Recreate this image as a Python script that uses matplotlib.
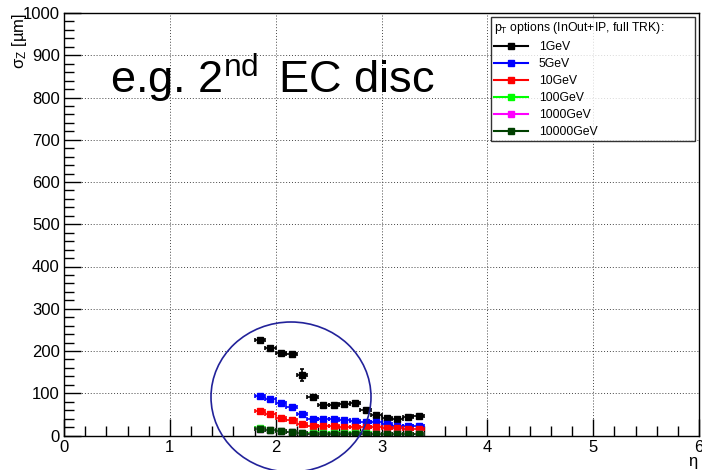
import matplotlib
matplotlib.use("Agg")
import matplotlib.pyplot as plt
from matplotlib.lines import Line2D
from matplotlib.patches import Ellipse
from matplotlib.ticker import MultipleLocator

plt.rcParams['font.family'] = ['Liberation Sans', 'DejaVu Sans']
plt.rcParams['mathtext.fontset'] = 'custom'
plt.rcParams['mathtext.rm'] = 'Liberation Sans'
plt.rcParams['mathtext.it'] = 'Liberation Sans'

# eta bin centres
eta = [1.85, 1.95, 2.05, 2.15, 2.25, 2.35, 2.45, 2.55,
       2.65, 2.75, 2.85, 2.95, 3.05, 3.15, 3.25, 3.35]

# sigma_z [um] per pT option
sz_1 = [225, 208, 196, 194, 143, 90, 72, 72, 74, 78, 60, 48, 42, 40, 43, 47]
err_1 = [4, 4, 4, 4, 15, 4, 3, 3, 3, 4, 3, 3, 3, 3, 3, 3]
sz_5 = [94, 86, 76, 67, 50, 38, 38, 38, 37, 35, 33, 31, 27, 23, 23, 23]
sz_10 = [57, 50, 42, 36, 28, 23, 23, 23, 21, 21, 21, 20, 18, 17, 16, 16]
sz_100 = [17, 14, 11, 9, 7, 5, 5, 5, 5, 5, 5, 4, 4, 4, 4, 4]
sz_1000 = [15, 13, 10, 8, 6, 4, 4, 4, 4, 4, 4, 3, 3, 3, 3, 3]
sz_10000 = [15, 13, 10, 8, 6, 4, 4, 4, 4, 4, 4, 3, 3, 3, 3, 3]

labels = ["1GeV", "5GeV", "10GeV", "100GeV", "1000GeV", "10000GeV"]
colors = ["black", "#0000ff", "#ff0000", "#00ff00", "#ff00ff", "#004000"]
series = [sz_1, sz_5, sz_10, sz_100, sz_1000, sz_10000]

fig = plt.figure(figsize=(7.02, 4.70), dpi=100)
ax = fig.add_axes([64 / 702, 1 - 435.5 / 470, 635 / 702, 422.5 / 470])

for vals, c in zip(series, colors):
    yerr = err_1 if vals is sz_1 else [2] * len(vals)
    ax.errorbar(eta, vals, xerr=0.05, yerr=yerr, fmt='s', color=c,
                markersize=5, elinewidth=1.2, capsize=1.5, capthick=1.2)

ax.set_xlim(0, 6)
ax.set_ylim(0, 1000)
ax.xaxis.set_major_locator(MultipleLocator(1))
ax.xaxis.set_minor_locator(MultipleLocator(0.2))
ax.yaxis.set_major_locator(MultipleLocator(100))
ax.yaxis.set_minor_locator(MultipleLocator(20))
ax.tick_params(which='both', direction='in', labelsize=12, width=1)
ax.tick_params(which='major', length=12, pad=3)
ax.tick_params(which='minor', length=7)
ax.grid(True, which='major', linestyle=(0, (1, 2)), color='#444444', linewidth=0.7)
for s in ax.spines.values():
    s.set_linewidth(1)

fig.text(0.028, 1 - 13 / 470, r"$\sigma_{Z}$ [µm]", rotation=90,
         ha='center', va='top', fontsize=12)
fig.text(693 / 702, 1 - 463 / 470, r"$\eta$", ha='center', va='center', fontsize=12)

fig.text(110 / 702, 1 - 93 / 470, r"e.g. 2$^{\rm nd}$$\,$ EC disc", fontsize=32.5,
         ha='left', va='baseline')

handles = [Line2D([], [], color=c, marker='s', markersize=5, linewidth=1.5)
           for c in colors]
leg = fig.legend(handles, labels, loc='upper left', mode='expand',
                 bbox_to_anchor=(491 / 702, 1 - 137 / 470, 204 / 702, 120 / 470),
                 title=r"p$_{\rm T}$ options (InOut+IP, full TRK):",
                 fontsize=8.8, title_fontsize=8.8, frameon=True,
                 fancybox=False, edgecolor='black', borderaxespad=0,
                 handlelength=2.8, labelspacing=0.42, borderpad=0.22,
                 handletextpad=0.9)
leg._legend_box.align = "left"
leg.get_frame().set_linewidth(1)

circle = Ellipse((291 / 702, 1 - 397 / 470), 160 / 702, 150 / 470,
                 transform=fig.transFigure, fill=False,
                 edgecolor='#22229a', linewidth=1.2)
fig.add_artist(circle)

fig.savefig("out.png", dpi=100)
